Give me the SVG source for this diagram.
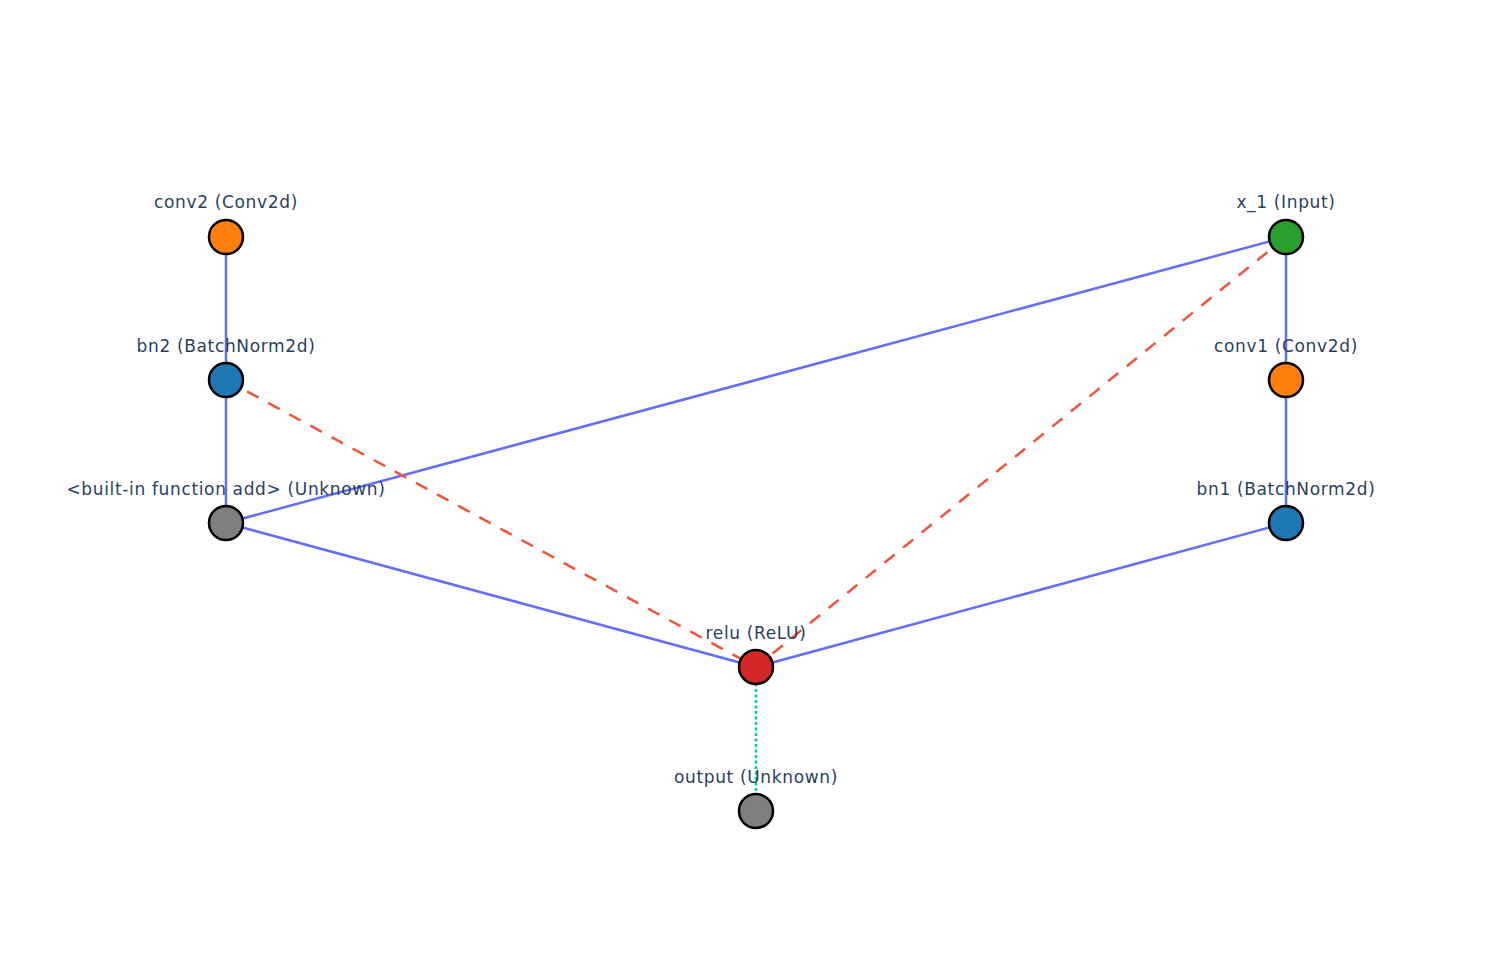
<svg xmlns="http://www.w3.org/2000/svg" width="1499" height="964" viewBox="0 0 1499 964">
<style>
.e{fill:none;stroke-width:2.5}
.s{stroke:#636efa}
.d{stroke:#EF553B;stroke-dasharray:13,11}
.o{stroke:#00cc96;stroke-dasharray:3,2.5}
.n circle{stroke:#000;stroke-width:2.5}
.n text{font-family:"DejaVu Sans",Verdana,sans-serif;font-size:17px;letter-spacing:0.65px;fill:#2a3f5f;text-anchor:middle}
</style>
<rect width="1499" height="964" fill="#fff"/>
<g id="edges">
<line class="e s" x1="226" y1="237" x2="226" y2="380"/>
<line class="e s" x1="226" y1="380" x2="226" y2="523"/>
<line class="e s" x1="1286" y1="237" x2="226" y2="523"/>
<line class="e s" x1="226" y1="523" x2="756" y2="667"/>
<line class="e s" x1="1286" y1="523" x2="756" y2="667"/>
<line class="e s" x1="1286" y1="237" x2="1286" y2="380"/>
<line class="e s" x1="1286" y1="380" x2="1286" y2="523"/>
<line class="e d" x1="226" y1="380" x2="756" y2="667"/>
<line class="e d" x1="1286" y1="237" x2="756" y2="667"/>
<line class="e o" x1="756" y1="667" x2="756" y2="811"/>
</g>
<g id="conv2" class="n"><circle cx="226" cy="237" r="17" fill="#ff7f0e"/><text x="226" y="208">conv2 (Conv2d)</text></g>
<g id="bn2" class="n"><circle cx="226" cy="380" r="17" fill="#1f77b4"/><text x="226" y="352">bn2 (BatchNorm2d)</text></g>
<g id="add" class="n"><circle cx="226" cy="523" r="17" fill="#7f7f7f"/><text x="226" y="495">&lt;built-in function add&gt; (Unknown)</text></g>
<g id="relu" class="n"><circle cx="756" cy="667" r="17" fill="#d62728"/><text x="756" y="639">relu (ReLU)</text></g>
<g id="output" class="n"><circle cx="756" cy="811" r="17" fill="#7f7f7f"/><text x="756" y="783">output (Unknown)</text></g>
<g id="x_1" class="n"><circle cx="1286" cy="237" r="17" fill="#2ca02c"/><text x="1286" y="208">x_1 (Input)</text></g>
<g id="conv1" class="n"><circle cx="1286" cy="380" r="17" fill="#ff7f0e"/><text x="1286" y="352">conv1 (Conv2d)</text></g>
<g id="bn1" class="n"><circle cx="1286" cy="523" r="17" fill="#1f77b4"/><text x="1286" y="495">bn1 (BatchNorm2d)</text></g>
</svg>
